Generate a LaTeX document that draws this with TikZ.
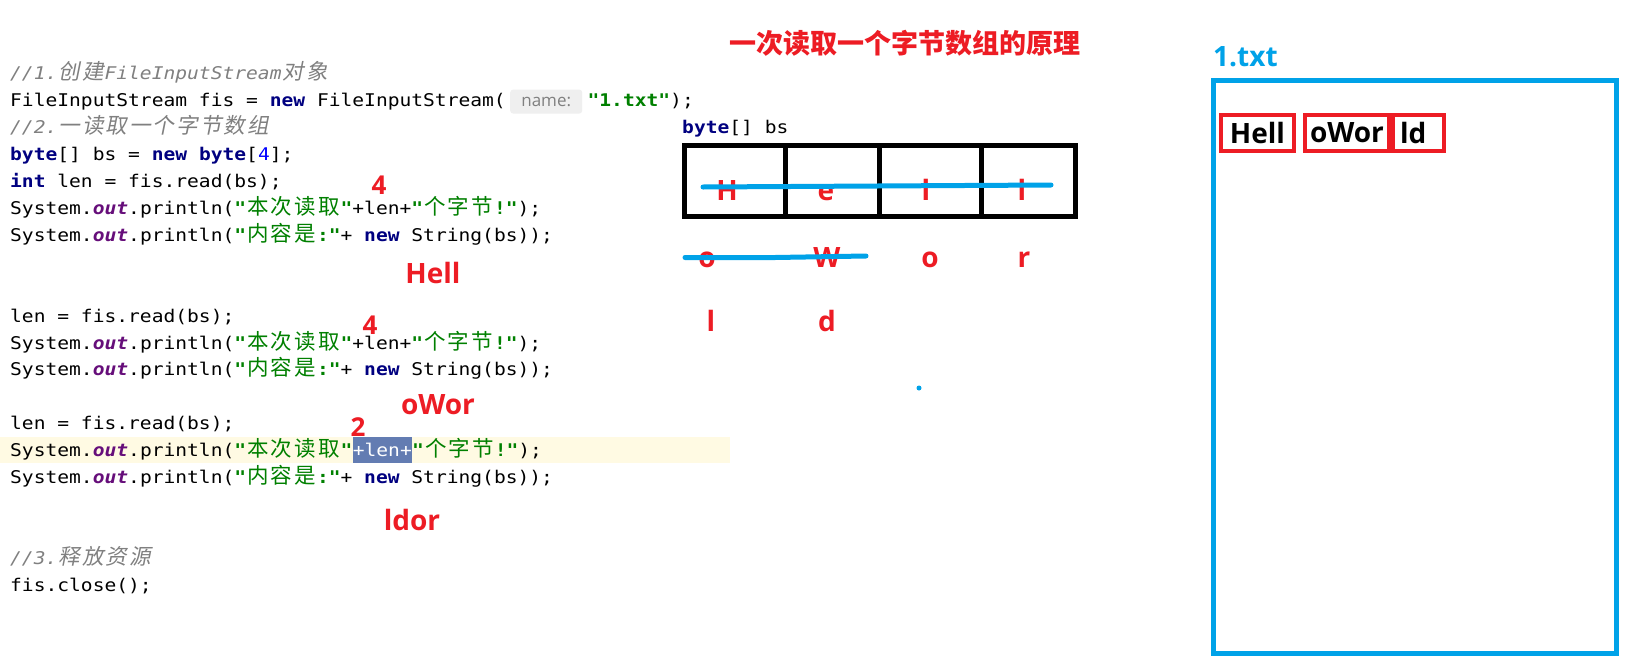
\documentclass[tikz,border=0pt]{standalone}
\usepackage{fontspec}
\usepackage{tikz}
\usetikzlibrary{positioning}

\newfontfamily\codefam[FakeStretch=1.12]{DejaVu Sans Mono}
\newfontfamily\zhfam{Noto Sans CJK SC}
\newfontfamily\zhslantfam[FakeSlant=0.2]{Noto Sans CJK SC}
\newfontfamily\labfam{Open Sans}

\newcommand\codefont{\codefam\fontsize{17.5}{27}\selectfont}
\newcommand\labfont{\labfam\bfseries\fontsize{28}{30}\selectfont}
\newcommand\numfont{\labfam\bfseries\fontsize{26}{28}\selectfont}
\newcommand\titlefont{\zhfam\bfseries\fontsize{27}{30}\selectfont}
\newcommand\hintfont{\labfam\fontsize{17}{20}\selectfont}

\definecolor{kwc}{RGB}{0,0,128}
\definecolor{stc}{RGB}{0,128,0}
\definecolor{cmc}{RGB}{128,128,128}
\definecolor{fldc}{RGB}{102,14,122}
\definecolor{numc}{RGB}{0,0,255}
\definecolor{annred}{RGB}{237,28,36}
\definecolor{paintblue}{RGB}{0,162,232}
\definecolor{rowc}{RGB}{255,250,227}
\definecolor{selc}{RGB}{99,124,178}
\definecolor{hintbg}{RGB}{239,239,239}
\definecolor{hinttx}{RGB}{128,128,128}

% width of one code character, CJK takes two
\newlength\cw
\AtBeginDocument{\settowidth{\cw}{\codefont 0}}

\let\zhend\relax
\let\zhsel\zhfam
\def\zhgo#1{\ifx#1\zhend\else\makebox[2\cw]{\zhsel\mdseries\upshape\fontsize{21.5}{27}\selectfont #1}\expandafter\zhgo\fi}
\newcommand\zh[1]{\zhgo#1\zhend}
\newcommand\zhi[1]{{\let\zhsel\zhslantfam\zh{#1}}}
\newcommand\kw[1]{{\bfseries\color{kwc}#1}}
\newcommand\fld[1]{{\bfseries\itshape\color{fldc}#1}}
\newcommand\zs[2][]{{\bfseries\color{stc}"\zh{#2}#1"}}

\begin{document}
\begin{tikzpicture}[x=1pt, y=-1pt,
    code/.style={inner sep=0pt, anchor=base west, font=\codefont},
    hint/.style={fill=hintbg, rounded corners=3pt, inner sep=0pt, minimum width=72pt, minimum height=24pt, text=hinttx, font=\hintfont},
    num/.style={inner sep=0pt, text=annred, font=\numfont},
    redlabel/.style={inner sep=0pt, text=annred, font=\labfont},
    cell/.style={redlabel, anchor=base},
    strike/.style={paintblue, line width=5pt},
    chunk/.style={draw=annred, line width=4pt, minimum height=36pt, inner sep=0pt, font=\labfont}]
    \path[use as bounding box, fill=white] (0,0) rectangle (1631,667);

    % code
    \fill[rowc] (0,437) rectangle (730,463);
    \node[code, text=cmc] (c1) at (10,79.5) {\itshape //1.\zhi{创建}FileInputStream\zhi{对象}};
    \node[code] (l1) at (10,106.45) {FileInputStream fis = \kw{new} FileInputStream(};
    \node[hint, right=4pt of l1] (nm) {name:};
    \coordinate (q1) at ([xshift=5pt]nm.east);
    \node[code] (l1b) at (q1 |- l1.base) {{\bfseries\color{stc}"1.txt"});};
    \node[code, text=cmc] (c2) at (10,133.4) {\itshape //2.\zhi{一读取一个字节数组}};
    \node[code] (l3) at (10,160.35) {\kw{byte}[] bs = \kw{new} \kw{byte}[{\color{numc}4}];};
    \node[code] (l4) at (10,187.3) {\kw{int} len = fis.read(bs);};
    \node[code] (l5) at (10,214.25) {System.\fld{out}.println(\zs{本次读取}+len+\zs[!]{个字节});};
    \node[code] (l6) at (10,241.2) {System.\fld{out}.println(\zs[:]{内容是}+ \kw{new} String(bs));};
    \node[code] (l9) at (10,322.05) {len = fis.read(bs);};
    \node[code] (l10) at (10,349) {System.\fld{out}.println(\zs{本次读取}+len+\zs[!]{个字节});};
    \node[code] (l11) at (10,375.95) {System.\fld{out}.println(\zs[:]{内容是}+ \kw{new} String(bs));};
    \node[code] (l13) at (10,429.85) {len = fis.read(bs);};
    \node[code] (l14a) at (10,456.8) {System.\fld{out}.println(\zs{本次读取}};
    \node[code, fill=selc, text=white, text height=19.8pt, text depth=6.2pt] (sel) at (l14a.base east) {+len+};
    \node[code] (l14c) at (sel.base east) {\zs[!]{个字节});};
    \node[code] (l15) at (10,483.75) {System.\fld{out}.println(\zs[:]{内容是}+ \kw{new} String(bs));};
    \node[code, text=cmc] (c3) at (10,564.6) {\itshape //3.\zhi{释放资源}};
    \node[code] (l19) at (10,591.55) {fis.close();};

    % notes on the code
    \node[num] (n1) at (379,185) {4};
    \node[redlabel] (w1) at (433,273) {Hell};
    \node[num] (n2) at (370,325) {4};
    \node[redlabel] (w2) at (438,405) {oWor};
    \node[num] (n3) at (358,427) {2};
    \node[redlabel] (w3) at (412,520) {ldor};

    \node[inner sep=0pt, text=annred, font=\titlefont] (title) at (905,43) {一次读取一个字节数组的原理};

    % the array bs
    \node[code] (bs) at (682,133) {\kw{byte}[] bs};
    \draw[line width=5pt] (684.5,145.5) rectangle (1075.5,216.5);
    \foreach \x in {785,879.5,981.5}
        \draw[line width=5pt] (\x,145.5) -- (\x,216.5);
    \foreach \x/\c [count=\i] in {727/H,826/e,926/l,1022/l}
        \node[cell] (a\i) at (\x,200) {\c};
    \foreach \x/\c [count=\i] in {707/o,827/W,930/o,1024/r}
        \node[cell] (b\i) at (\x,267) {\c};
    \foreach \x/\c [count=\i] in {711/l,827/d}
        \node[cell] (d\i) at (\x,331) {\c};
    \draw[strike, line cap=round] (703,187) -- (1051,185);
    \draw[strike, line cap=round] (685,257.5) -- (775,257.5) -- (866,256);
    \fill[paintblue] (919,388) circle (2.5pt);

    % the file
    \node[anchor=base west, inner sep=0pt, text=paintblue, font=\labfont] (fname) at (1213,66.5) {1.txt};
    \draw[paintblue, line width=5pt] (1213.5,80.5) rectangle (1616.5,653.5);
    \node[chunk, minimum width=73pt] (k1) at (1257.5,133) {Hell};
    \node[chunk, minimum width=84pt] (k2) at (1347,133) {oWor};
    \node[chunk, text width=37pt, align=left, inner xsep=7pt] (k3) at (1418.5,133) {ld};
\end{tikzpicture}
\end{document}
